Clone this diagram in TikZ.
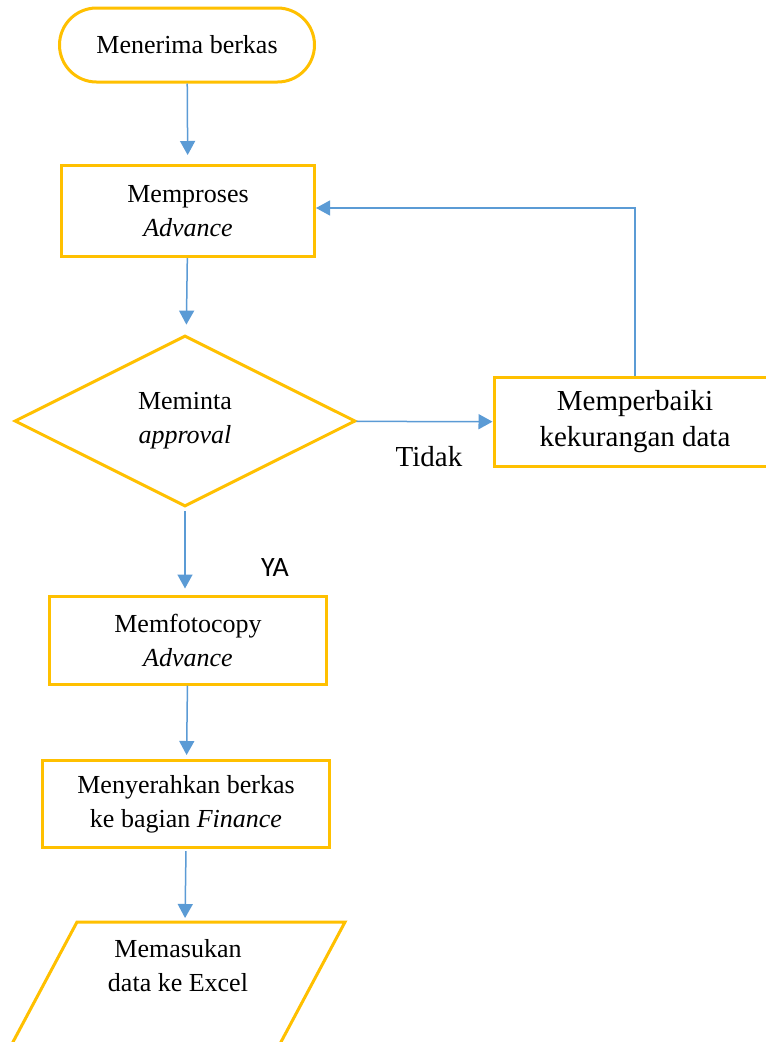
\documentclass[tikz,border=0pt]{standalone}
\usepackage{fontspec}
\setmainfont{Liberation Serif}
\newfontfamily\calibri{Carlito}
\usepackage{xcolor}
\definecolor{gold}{HTML}{FFC000}
\definecolor{flowblue}{HTML}{5B9BD5}
\usepackage{tikz}
\usetikzlibrary{calc,shapes.geometric,arrows.meta,positioning}
\tikzset{
	terminal/.style={
		draw=gold, line width=3pt, rectangle, rounded corners=37pt,
		minimum width=255pt, minimum height=74pt,
		inner sep=0pt, text=black, align=center
	},
	process/.style={
		draw=gold, line width=3pt, rectangle,
		inner sep=0pt, text=black, align=center
	},
	decision/.style={
		draw=gold, line width=3pt, diamond, aspect=2,
		minimum width=341pt, minimum height=171pt,
		inner sep=0pt, text=black, align=center
	},
	flow_arrow/.style={
		draw=flowblue, line width=1.5pt,
		-{Triangle[width=15pt,length=14pt]}
	}
}

\begin{document}
\begin{tikzpicture}[x=1pt,y=-1pt,font=\fontsize{26}{34}\selectfont]
				\clip (0,0) rectangle (766,1042);
				\fill[white] (0,0) rectangle (766,1042);
				\node[terminal] (terima) at (187,45) {Menerima berkas};
				\node[process, minimum width=253pt, minimum height=91pt] (proses) at (188,211) {Memproses\\\textit{Advance}};
				\node[decision] (minta) at (185,421) {Meminta\\\textit{approval}};
				\node[process, minimum width=282pt, minimum height=89pt, font=\fontsize{29}{36}\selectfont] (perbaiki) at (635,422) {Memperbaiki\\kekurangan data};
				\node[process, minimum width=277pt, minimum height=88pt] (fotocopy) at (188,640) {Memfotocopy\\\textit{Advance}};
				\node[process, minimum width=287pt, minimum height=87pt] (serah) at (186,804) {Menyerahkan berkas\\ke bagian \textit{Finance}};
				% input data (parallelogram, runs off the page)
				\coordinate (masukTop) at (185,922);
				\draw[gold, line width=3pt] (77,922) -- (345,922) -- (270.3,1062) -- (2.3,1062) -- cycle;
				\node[align=center] (masuk) at (178,966) {Memasukan\\data ke Excel};
				\node[font=\fontsize{29}{34}\selectfont] (tidak) at (429,457) {Tidak};
				\node[font=\calibri\fontsize{28}{34}\selectfont] (ya) at (275,568) {YA};
				\draw[flow_arrow, shorten >=9pt] (terima) -- (proses);
				\draw[flow_arrow, shorten >=10pt] (proses) -- (minta);
				\draw[flow_arrow] (minta) -- (perbaiki);
				\draw[flow_arrow, line width=1.2pt] (perbaiki.north) |- ([yshift=3pt]proses.east);
				\draw[flow_arrow, shorten <=3pt, shorten >=6pt] (minta.south) -- ([xshift=-3pt]fotocopy.north);
				\draw[flow_arrow, shorten >=4pt] (fotocopy) -- (serah);
				\draw[flow_arrow, shorten <=2pt, shorten >=4pt] (serah.south) -- (masukTop);
			\end{tikzpicture}
\end{document}
